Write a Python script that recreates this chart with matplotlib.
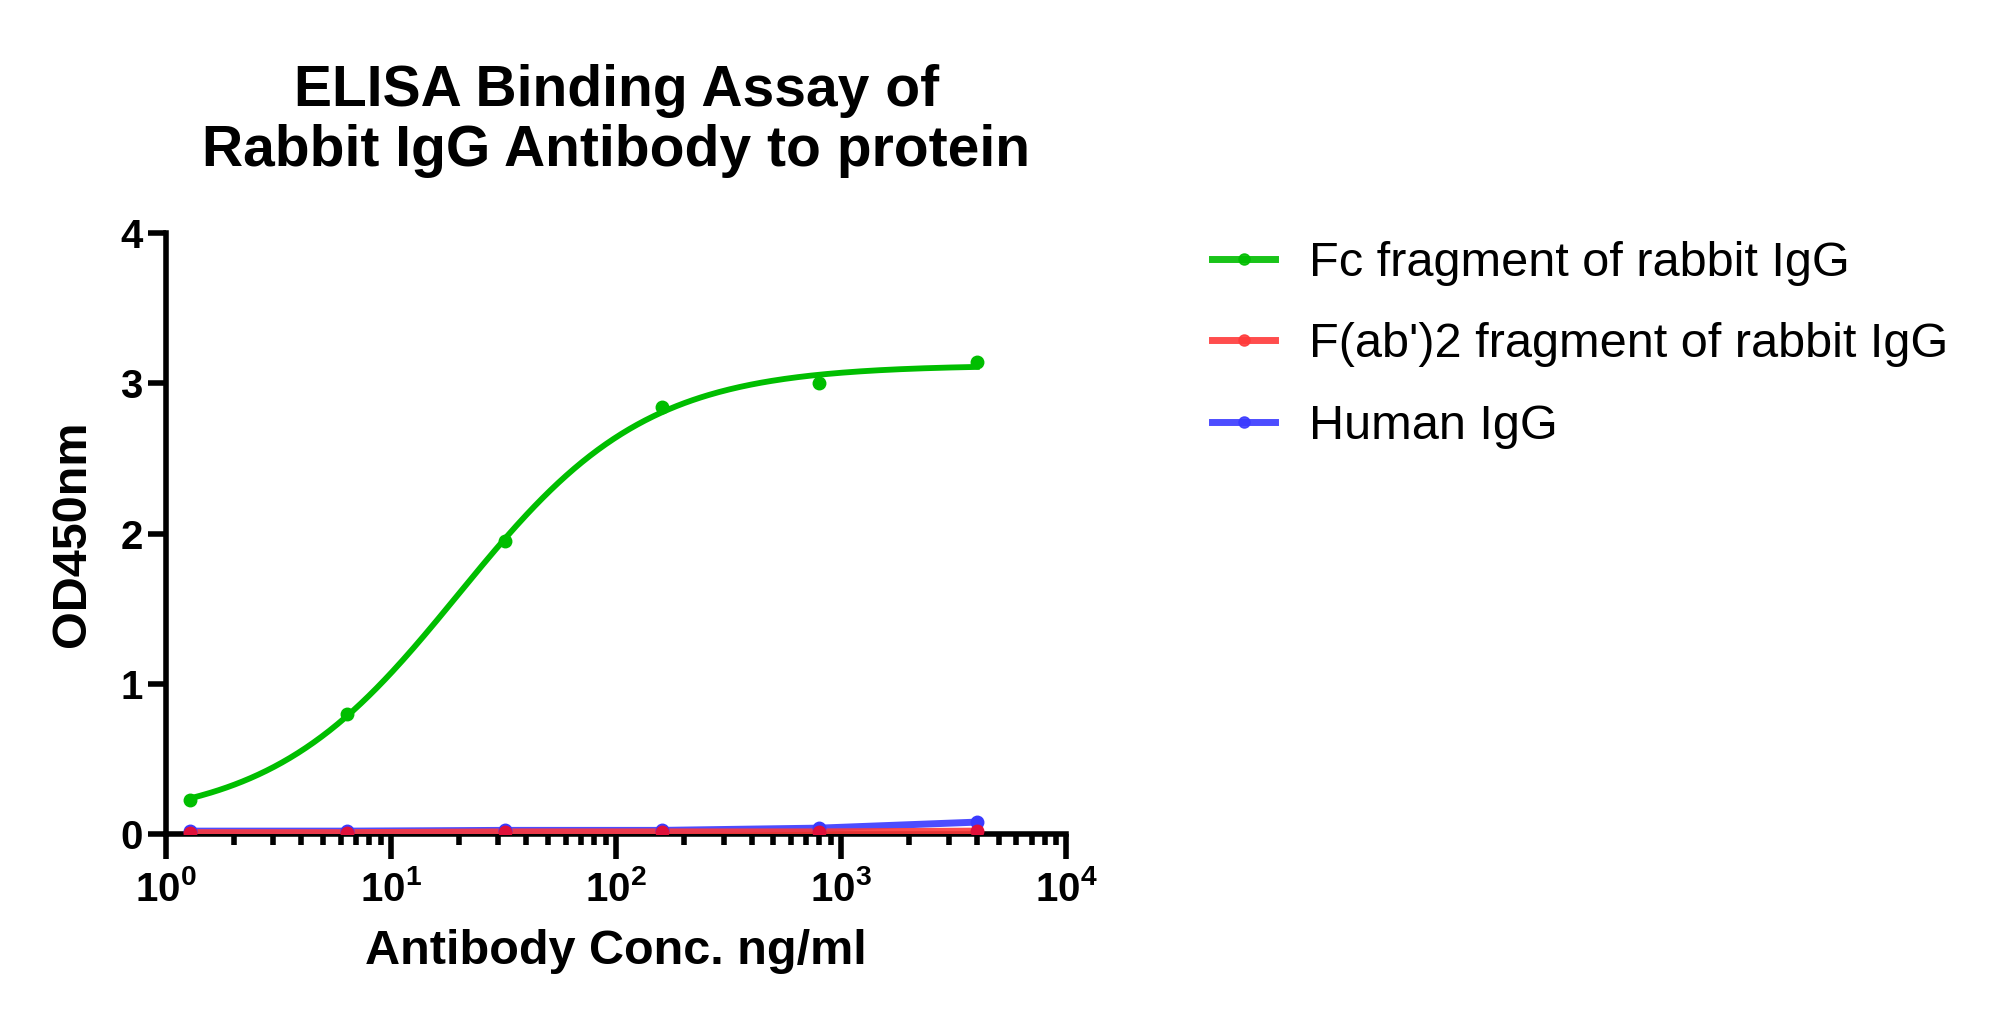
import numpy as np
import matplotlib
matplotlib.use("Agg")
import matplotlib.pyplot as plt
from matplotlib.ticker import LogLocator, NullFormatter

plt.rcParams["font.family"] = ["Liberation Sans", "DejaVu Sans"]
plt.rcParams["mathtext.fontset"] = "custom"
plt.rcParams["mathtext.rm"] = "Liberation Sans:bold"
plt.rcParams["mathtext.bf"] = "Liberation Sans:bold"

# --- data ---
conc = [1.28, 6.4, 32, 160, 800, 4000]           # ng/ml
od_fc = [0.23, 0.80, 1.95, 2.84, 3.00, 3.14]      # Fc fragment of rabbit IgG
od_fab = [0.01, 0.01, 0.015, 0.015, 0.015, 0.02]  # F(ab')2 fragment
od_human = [0.02, 0.02, 0.025, 0.025, 0.04, 0.08] # Human IgG

labels = ["Fc fragment of rabbit IgG", "F(ab')2 fragment of rabbit IgG", "Human IgG"]
colors = ["#00BE00", "#FF3A3A", "#3A3AFF"]

x = np.array(conc)
y = np.array(od_fc)

# 4PL fit of the Fc series (grid over EC50/hill, linear solve for bottom/top)
best = None
for logec in np.linspace(0, 3, 301):
    for hill in np.linspace(0.5, 2.0, 151):
        f = 1.0 / (1.0 + (10**logec / x) ** hill)
        A = np.column_stack([1 - f, f])
        coef, *_ = np.linalg.lstsq(A, y, rcond=None)
        err = np.sum((A @ coef - y) ** 2)
        if best is None or err < best[0]:
            best = (err, logec, hill, coef)
_, logec, hill, (bottom, top) = best
xs = np.logspace(np.log10(x.min()), np.log10(x.max()), 300)
ys = bottom + (top - bottom) / (1.0 + (10**logec / xs) ** hill)

fig = plt.figure(figsize=(19.97, 10.26), dpi=100)
ax = fig.add_axes([0.083, 0.187, 0.451, 0.586])

ax.plot(x, od_human, color=colors[2], lw=5, alpha=0.9, solid_capstyle="round", zorder=3)
ax.plot(x, od_human, "o", color=colors[2], ms=9, zorder=4)
ax.plot(x, od_fab, color=colors[1], lw=5, alpha=0.9, solid_capstyle="round", zorder=3)
ax.plot(x, od_fab, "o", color="#E0103A", ms=9, zorder=4)
ax.plot(xs, ys, color=colors[0], lw=4.2, zorder=5)
ax.plot(x, y, "o", color=colors[0], ms=9, zorder=6)

ax.set_xscale("log")
ax.set_xlim(1, 1e4)
ax.set_ylim(0, 4)
ax.set_yticks([0, 1, 2, 3, 4])
ax.set_xticks([1, 10, 100, 1000, 10000])
ax.set_xticklabels([r"$\mathbf{10^{%d}}$" % i for i in range(5)])
ax.xaxis.set_minor_locator(LogLocator(base=10, subs=np.arange(2, 10)))
ax.xaxis.set_minor_formatter(NullFormatter())

for s in ["top", "right"]:
    ax.spines[s].set_visible(False)
for s in ["left", "bottom"]:
    ax.spines[s].set_linewidth(4)
ax.tick_params(axis="both", which="major", width=4, length=13, labelsize=29, direction="out")
ax.tick_params(axis="x", which="minor", width=4, length=8, direction="out")
ax.tick_params(axis="x", which="major", length=18, pad=8)
for lab in ax.get_yticklabels():
    lab.set_fontweight("bold")

ax.set_xlabel("Antibody Conc. ng/ml", fontsize=35, fontweight="bold", labelpad=14)
ax.set_ylabel("OD450nm", fontsize=35, fontweight="bold", labelpad=18)
ax.set_title("ELISA Binding Assay of\nRabbit IgG Antibody to protein",
             fontsize=41, fontweight="bold", pad=48, linespacing=1.15)

handles = [plt.Line2D([], [], color=c, lw=5, marker="o", ms=8, alpha=0.9) for c in colors]
fig.legend(handles, labels, loc="upper left", bbox_to_anchor=(0.585, 0.808),
           frameon=False, fontsize=35, handlelength=1.3, labelspacing=0.75, handletextpad=0.7)

fig.savefig("out.png", dpi=100)
